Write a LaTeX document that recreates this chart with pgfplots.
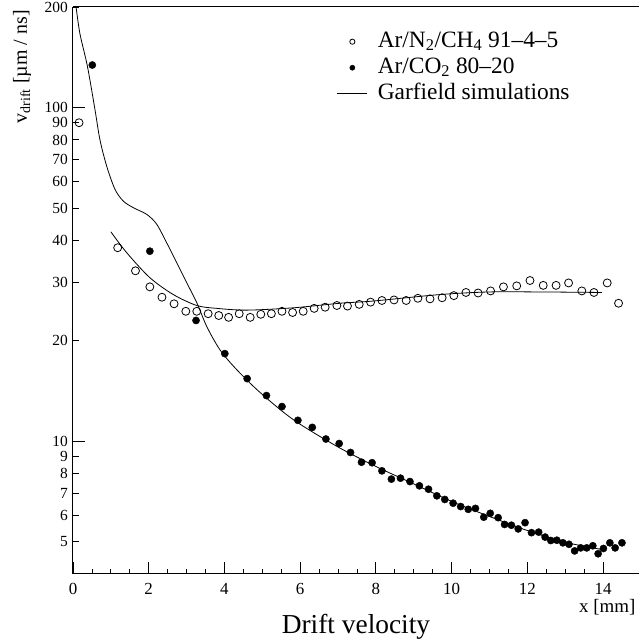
\documentclass[border=0pt]{standalone}
\usepackage{pgfplots}
\pgfplotsset{compat=1.18}
\usepackage{fontspec}
\setmainfont{Liberation Serif}
\usetikzlibrary{calc}
\begin{document}
\begin{tikzpicture}
\begin{axis}[
  scale only axis,
  width=566bp, height=567bp,
  xmin=0, xmax=14.95,
  ymode=log, ymin=4, ymax=200,
  axis lines=left,
  axis line style={-, line width=1bp},
  tick align=inside,
  major tick length=12bp,
  minor tick length=5.5bp,
  tick style={line width=0.8bp, black},
  xtick={0,2,...,14},
  minor x tick num=3,
  ytick={10,100},
  yticklabels={10,100},
  extra y ticks={5,6,7,8,9,20,30,40,50,60,70,80,90,200},
  extra y tick labels={5,6,7,8,9,20,30,40,50,60,70,80,90,200},
  extra y tick style={major tick length=6bp},
  /pgf/number format/assume math mode=true,
  xticklabel style={font=\fontsize{17}{19}\selectfont, yshift=-6bp},
  yticklabel style={font=\fontsize{15.5}{16}\selectfont, inner ysep=0.5bp, inner xsep=5bp, text height=10.5bp, text depth=0bp},
  legend style={draw=none, fill=none, at={(axis description cs:0.466,0.9594)}, anchor=north west,
    font=\fontsize{23.5}{27}\selectfont, inner sep=0pt, row sep=3bp, column sep=8bp,
    nodes={inner ysep=0pt, text height=17bp, text depth=6bp}},
  legend cell align=left,
  legend image code/.code={\draw[mark repeat=2,mark phase=2,#1,mark size=2.6bp] plot coordinates {(0bp,0bp) (15bp,0bp) (30bp,0bp)};},
]
\addplot[only marks, mark=o, mark size=4bp, mark options={line width=0.8bp, black}] coordinates {
(0.16,90) (1.18,38.0) (1.65,32.4) (2.03,29.0) (2.35,27.0) (2.67,25.8) (2.98,24.5) (3.27,24.5)
(3.57,24.1) (3.85,23.8) (4.11,23.5) (4.39,24.1) (4.68,23.5) (4.96,24.0) (5.24,24.1) (5.52,24.5)
(5.80,24.3) (6.08,24.5) (6.37,25.0) (6.66,25.2) (6.97,25.5) (7.25,25.4) (7.56,25.7) (7.86,26.1)
(8.16,26.4) (8.48,26.5) (8.80,26.4) (9.11,26.8) (9.43,26.7) (9.75,26.9) (10.06,27.3) (10.38,27.9)
(10.70,27.8) (11.03,28.2) (11.37,29.0) (11.72,29.2) (12.07,30.3) (12.42,29.3) (12.76,29.3) (13.09,29.8)
(13.44,28.2) (13.76,27.9) (14.11,29.8) (14.41,25.9)
};
\addlegendentry{Ar/N\textsubscript{2}/CH\textsubscript{4} 91–4–5}
\addplot[only marks, mark=*, mark size=3.6bp, mark options={black, fill=black}] coordinates {
(0.51,134) (2.03,37.1) (3.25,23.0) (4.01,18.3) (4.60,15.4) (5.11,13.7) (5.52,12.7) (5.94,11.55)
(6.32,11.0) (6.68,10.15) (7.03,9.84) (7.33,9.25) (7.62,8.65) (7.90,8.62) (8.16,8.15) (8.41,7.70)
(8.65,7.75) (8.90,7.57) (9.15,7.35) (9.39,7.18) (9.61,6.86) (9.82,6.69) (10.04,6.52) (10.24,6.37)
(10.44,6.25) (10.63,6.29) (10.85,5.92) (11.02,6.08) (11.23,5.90) (11.40,5.63) (11.58,5.60) (11.76,5.46)
(11.94,5.70) (12.11,5.32) (12.30,5.34) (12.47,5.16) (12.62,5.04) (12.78,5.05) (12.94,4.96) (13.10,4.91)
(13.25,4.69) (13.41,4.79) (13.57,4.79) (13.73,4.86) (13.87,4.60) (14.01,4.77) (14.18,4.96) (14.32,4.79)
(14.50,4.96)
};
\addlegendentry{Ar/CO\textsubscript{2} 80–20}
\addplot[black, line width=0.8bp, smooth, no markers] coordinates {
(0.07,205) (0.18,167) (0.38,133) (0.58,98.6) (0.71,80.2) (0.89,66.7) (1.11,56.8) (1.33,52.4)
(1.59,50.1) (1.95,47.8) (2.21,44.7) (2.47,39.4) (2.65,35.9) (3.0,29.9) (3.27,26.0) (3.53,22.1)
(3.88,18.8) (4.32,16.4) (4.94,14.0) (5.82,11.6) (6.97,9.65) (8,8.4) (9,7.45) (10,6.6) (11,5.95)
(12,5.4) (13,4.98) (14,4.73)
};
\addlegendentry{Garfield simulations}
\addplot[black, line width=0.8bp, smooth, no markers, forget plot] coordinates {
(1.0,42.4) (1.42,36.7) (2.03,30.9) (2.65,27.5) (3.27,25.5) (3.80,25.0) (4.59,24.7) (5.82,25.1)
(7.05,25.9) (7.93,26.3) (9.69,27.5) (11.0,28.0) (12.34,28.0) (13.97,27.9)
};
\end{axis}
\draw[line width=1bp] (current axis.north west) -- (current axis.north east);
\node[anchor=base east, font=\fontsize{19}{21}\selectfont] at ($(current axis.south east)+(0bp,-38bp)$) {x [mm]};
\node[anchor=base, font=\fontsize{27.5}{30}\selectfont] at ($(current axis.south)+(0bp,-59bp)$) {Drift velocity};
\node[rotate=90, anchor=base east, font=\fontsize{20}{22}\selectfont, inner sep=0pt] at ($(current axis.north west)+(-46bp,-3bp)$) {v\textsubscript{drift} [µm / ns]};
\pgfresetboundingbox
\path[use as bounding box] ($(current axis.south west)+(-73bp,-67bp)$) rectangle ($(current axis.north east)+(0bp,7bp)$);
\end{tikzpicture}
\end{document}
